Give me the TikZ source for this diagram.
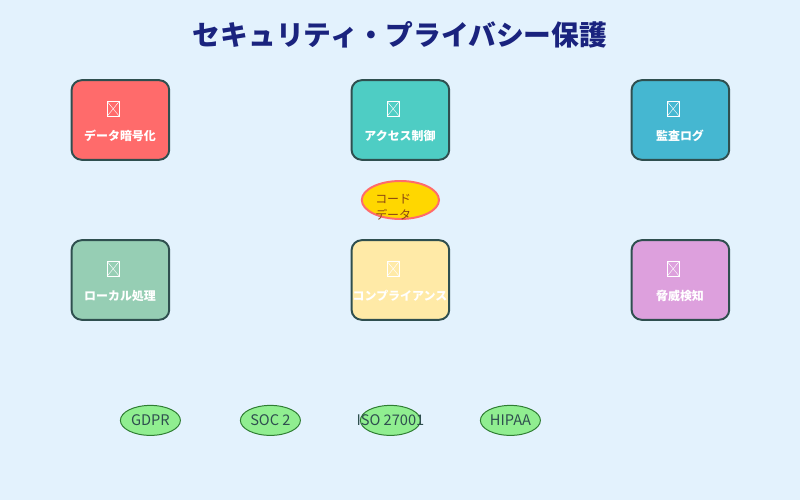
\documentclass[tikz,border=0pt]{standalone}
\usepackage{fontspec}
\setmainfont{Noto Sans CJK JP}
\usetikzlibrary{shapes.geometric}
\definecolor{paleblue}{HTML}{E3F2FD}
\definecolor{navy}{HTML}{1A237E}
\definecolor{slate}{HTML}{2F4F4F}
\definecolor{redbox}{HTML}{FF6B6B}
\definecolor{tealbox}{HTML}{4ECDC4}
\definecolor{bluebox}{HTML}{45B7D1}
\definecolor{greenbox}{HTML}{96CEB4}
\definecolor{yellowbox}{HTML}{FFEAA7}
\definecolor{plumbox}{HTML}{DDA0DD}
\definecolor{gold}{HTML}{FFD700}
\definecolor{saddle}{HTML}{8B4513}
\definecolor{lightgreen}{HTML}{90EE90}
\definecolor{darkgreen}{HTML}{2E7D32}
\tikzset{
  secbox/.style={draw=slate, line width=1.4pt, rounded corners=0.25cm, minimum width=2.44cm, minimum height=1.99cm, inner sep=0pt},
  tofu/.style={draw=white, line width=0.4pt, minimum width=0.31cm, minimum height=0.38cm, inner sep=0pt,
    path picture={\draw[white, line width=0.3pt] (path picture bounding box.north west) -- (path picture bounding box.south east)
      (path picture bounding box.north east) -- (path picture bounding box.south west);}},
  seclabel/.style={text=white, font=\fontsize{8.5}{10}\selectfont\bfseries, inner sep=0pt},
  badge/.style={ellipse, draw=darkgreen, fill=lightgreen, line width=0.7pt, minimum width=1.5cm, minimum height=0.75cm, inner sep=0pt},
  badgelabel/.style={text=slate, font=\fontsize{10.4}{12}\selectfont, inner sep=0pt}
}
\begin{document}
\begin{tikzpicture}
\fill[paleblue] (0,0) rectangle (20,12.5);
\node[text=navy, font=\fontsize{19.75}{24}\selectfont\bfseries] (title) at (10,11.62) {セキュリティ・プライバシー保護};
% top row
\node[secbox, fill=redbox] (crypt) at (3.01,9.5) {};
\node[tofu] (crypticon) at (2.83,9.78) {};
\node[seclabel] (cryptlabel) at (3,9.1) {データ暗号化};
\node[secbox, fill=tealbox] (access) at (10.01,9.5) {};
\node[tofu] (accessicon) at (9.83,9.78) {};
\node[seclabel] (accesslabel) at (10,9.1) {アクセス制御};
\node[secbox, fill=bluebox] (audit) at (17.01,9.5) {};
\node[tofu] (auditicon) at (16.83,9.78) {};
\node[seclabel] (auditlabel) at (17,9.1) {監査ログ};
% centre
\node[ellipse, draw=redbox, fill=gold, line width=1.4pt, minimum width=1.93cm, minimum height=0.95cm, inner sep=0pt] (code) at (10.01,7.5) {};
\node[text=saddle, anchor=west, align=left, inner sep=0pt, font=\fontsize{8.5}{11.4}\selectfont] (codelabel) at (9.375,7.33) {コード\\データ};
% bottom row
\node[secbox, fill=greenbox] (local) at (3.01,5.5) {};
\node[tofu] (localicon) at (2.83,5.78) {};
\node[seclabel] (locallabel) at (3,5.1) {ローカル処理};
\node[secbox, fill=yellowbox] (comply) at (10.01,5.5) {};
\node[tofu] (complyicon) at (9.83,5.78) {};
\node[seclabel] (complylabel) at (10,5.1) {コンプライアンス};
\node[secbox, fill=plumbox] (threat) at (17.01,5.5) {};
\node[tofu] (threaticon) at (16.83,5.78) {};
\node[seclabel] (threatlabel) at (17,5.1) {脅威検知};
% standards
\node[badge] (gdpr) at (3.76,1.99) {};
\node[badgelabel] (gdprlabel) at (gdpr) {GDPR};
\node[badge] (soc) at (6.76,1.99) {};
\node[badgelabel] (soclabel) at (soc) {SOC 2};
\node[badge] (iso) at (9.76,1.99) {};
\node[badgelabel] (isolabel) at (iso) {ISO 27001};
\node[badge] (hipaa) at (12.76,1.99) {};
\node[badgelabel] (hipaalabel) at (hipaa) {HIPAA};
\end{tikzpicture}
\end{document}
